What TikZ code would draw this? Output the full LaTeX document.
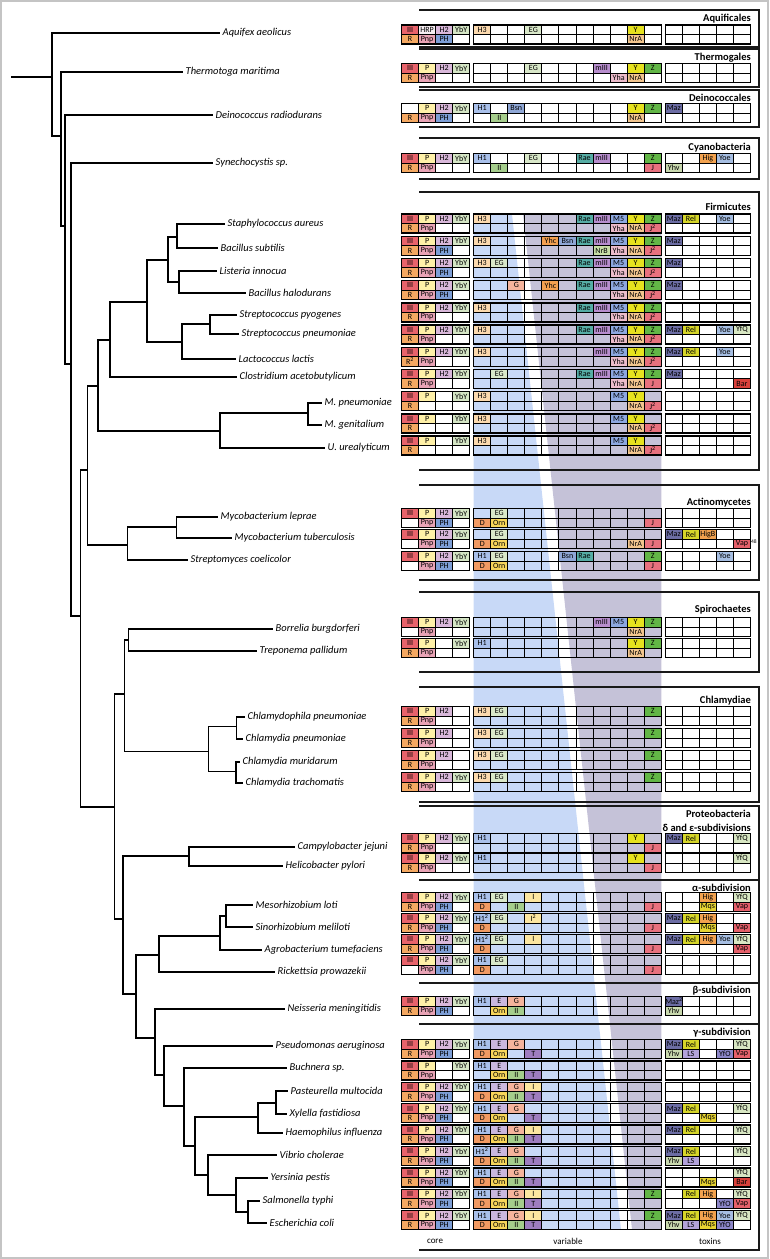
\documentclass[tikz,border=0pt]{standalone}
\usepackage{fontspec}
\setmainfont{Carlito}
\usetikzlibrary{positioning}
% cell colours
\definecolor{cIII}{HTML}{E8636B}
\definecolor{cR}{HTML}{F4A862}
\definecolor{cP}{HTML}{FFF1A8}
\definecolor{cHRP}{HTML}{F6EEF2}
\definecolor{cPnp}{HTML}{E8A3B5}
\definecolor{cH2}{HTML}{D9B8DA}
\definecolor{cPH}{HTML}{7D9ED6}
\definecolor{cYbY}{HTML}{D5E6C5}
\definecolor{cH3}{HTML}{FBD9AE}
\definecolor{cH1}{HTML}{A9C0EA}
\definecolor{cEG}{HTML}{D9E8C9}
\definecolor{cE}{HTML}{C9B7DE}
\definecolor{cG}{HTML}{F5B49C}
\definecolor{cI}{HTML}{FCE6A0}
\definecolor{cD}{HTML}{F19A63}
\definecolor{cOrn}{HTML}{F7D55A}
\definecolor{cII}{HTML}{A5CD8C}
\definecolor{cT}{HTML}{9E7DBF}
\definecolor{cBsn}{HTML}{8FA7D6}
\definecolor{cYhc}{HTML}{F2A050}
\definecolor{cRae}{HTML}{56ADA5}
\definecolor{cmIII}{HTML}{B78DCD}
\definecolor{cM5}{HTML}{8DA8E0}
\definecolor{cYha}{HTML}{ECBCCB}
\definecolor{cNrB}{HTML}{C8DEA6}
\definecolor{cY}{HTML}{E6E21E}
\definecolor{cNrA}{HTML}{F2C58E}
\definecolor{cZ}{HTML}{62B646}
\definecolor{cJ}{HTML}{E8717E}
\definecolor{cMaz}{HTML}{6C6DA4}
\definecolor{cRel}{HTML}{D6D62A}
\definecolor{cHig}{HTML}{F2A24F}
\definecolor{cYoe}{HTML}{A6BEE2}
\definecolor{cYfQ}{HTML}{D8E7C3}
\definecolor{cMqs}{HTML}{E6D332}
\definecolor{cVap}{HTML}{E5606A}
\definecolor{cBar}{HTML}{D9413B}
\definecolor{cYhv}{HTML}{C9D9AE}
\definecolor{cLS}{HTML}{B2A2DA}
\definecolor{cYfO}{HTML}{8C86C8}
\definecolor{bandblue}{HTML}{C8D9F7}
\definecolor{bandgrey}{HTML}{C5C2D8}
\definecolor{edgegrey}{HTML}{C4C4C4}
\tikzset{
  gridln/.style={draw=black,line width=1pt},
  blkln/.style={draw=black,line width=1.4pt},
  cell/.style={draw=black,line width=1pt,anchor=north west,minimum width=17.05pt,
               minimum height=9.5pt,inner sep=0pt,outer sep=0pt,font=\fontsize{8}{8}\selectfont},
  frame/.style={line width=1.5pt,black!90},
  hdr/.style={font=\bfseries\fontsize{10.5}{11}\selectfont,anchor=east,inner sep=0pt},
  spname/.style={font=\itshape\fontsize{10.5}{11}\selectfont,anchor=west,inner sep=2.5pt},
  colname/.style={font=\fontsize{9}{9}\selectfont,inner sep=0pt},
  br/.style={line width=1.4pt,black},
}
\newcommand\deflab[3]{\tikzset{lab #1/.style={fill=#2,node contents={#3}}}}
\deflab{III}{cIII}{III}
\deflab{R}{cR}{R}
\deflab{R2}{cR}{R\textsuperscript{2}}
\deflab{P}{cP}{P}
\deflab{HRP}{cHRP}{HRP}
\deflab{Pnp}{cPnp}{Pnp}
\deflab{H2}{cH2}{H2}
\deflab{PH}{cPH}{PH}
\deflab{YbY}{cYbY}{YbY}
\deflab{H3}{cH3}{H3}
\deflab{H1}{cH1}{H1}
\deflab{H12}{cH1}{H1\textsuperscript{2}}
\deflab{EG}{cEG}{EG}
\deflab{E}{cE}{E}
\deflab{G}{cG}{G}
\deflab{I}{cI}{I}
\deflab{I2}{cI}{I\textsuperscript{2}}
\deflab{D}{cD}{D}
\deflab{Orn}{cOrn}{Orn}
\deflab{II}{cII}{II}
\deflab{T}{cT}{T}
\deflab{Bsn}{cBsn}{Bsn}
\deflab{Yhc}{cYhc}{Yhc}
\deflab{Rae}{cRae}{Rae}
\deflab{mIII}{cmIII}{mIII}
\deflab{M5}{cM5}{M5}
\deflab{Yha}{cYha}{Yha}
\deflab{NrB}{cNrB}{NrB}
\deflab{Y}{cY}{Y}
\deflab{NrA}{cNrA}{NrA}
\deflab{Z}{cZ}{Z}
\deflab{J}{cJ}{J}
\deflab{J2}{cJ}{J\textsuperscript{2}}
\deflab{Maz}{cMaz}{Maz}
\deflab{Maz2}{cMaz}{Maz\textsuperscript{2}}
\deflab{Rel}{cRel}{Rel}
\deflab{Hig}{cHig}{Hig}
\deflab{HigB}{cHig}{HigB}
\deflab{Yoe}{cYoe}{Yoe}
\deflab{YfQ}{cYfQ}{YfQ}
\deflab{Mqs}{cMqs}{Mqs}
\deflab{Vap}{cVap}{Vap}
\deflab{Bar}{cBar}{Bar}
\deflab{Yhv}{cYhv}{Yhv}
\deflab{LS}{cLS}{LS}
\deflab{YfO}{cYfO}{YfO}
\tikzset{lab Vap48/.style={fill=cVap,node contents={Vap},
  label={[font=\fontsize{5.5}{5.5}\selectfont,inner sep=0.5pt,anchor=north west]north east:48}}}
% column position
\newcommand\colx[1]{\pgfmathsetmacro\cx{401.5+(#1-1)*17.05+(#1>4)*4+(#1>15)*4}}
% one genome: centre y, upper row, lower row
\newcommand\genome[3]{%
  \foreach \cc in {1,...,20}{\colx{\cc}
    \draw[gridln] (\cx,#1-9.5) rectangle ++(17.05,19);
    \draw[gridln] (\cx,#1) -- ++(17.05,0);}
  \foreach \cc/\lb in {#2}{\colx{\cc}\node[cell,lab \lb,name=u\cc,at={(\cx,#1-9.5)}];}
  \foreach \cc/\lb in {#3}{\colx{\cc}\node[cell,lab \lb,name=d\cc,at={(\cx,#1)}];}
  \draw[blkln] (401.5,#1-9.5) rectangle (469.7,#1+9.5);
  \draw[blkln] (473.7,#1-9.5) rectangle (661.25,#1+9.5);
  \draw[blkln] (665.25,#1-9.5) rectangle (750.5,#1+9.5);
}
\newcommand\grpframe[2]{\draw[frame] (419,#1) -- (759,#1) -- (759,#2) -- (419,#2);}

\begin{document}
\begin{tikzpicture}[x=1pt,y=-1pt]
\useasboundingbox (0,0) rectangle (769,1259);
\draw[line width=2pt,edgegrey] (1,1) rectangle (768,1258);
% shaded bands behind the variable block
\fill[bandblue] (473.7,214) -- (512,214) -- (621,1229.7) -- (473.7,1229.7) -- cycle;
\fill[bandgrey] (523,214) -- (661.25,214) -- (661.25,1229.7) -- (632,1229.7) -- cycle;
% group frames
\grpframe{10}{47}
\grpframe{49}{87}
\grpframe{90}{127}
\grpframe{138}{179}
\grpframe{192}{470}
\grpframe{485}{580}
\grpframe{592}{672}
\grpframe{687}{802}
\grpframe{806}{1250}
\draw[frame] (419,880) -- (759,880);
\draw[frame] (419,983) -- (759,983);
\draw[frame] (419,1024) -- (759,1024);
\node[hdr] (haq) at (751,19) {Aquificales};
\node[hdr] (hth) at (751,58) {Thermogales};
\node[hdr] (hde) at (751,98) {Deinococcales};
\node[hdr] (hcy) at (751,148) {Cyanobacteria};
\node[hdr] (hfi) at (751,207) {Firmicutes};
\node[hdr] (hac) at (751,503) {Actinomycetes};
\node[hdr] (hsp) at (751,610) {Spirochaetes};
\node[hdr] (hch) at (751,701) {Chlamydiae};
\node[hdr] (hpr) at (751,814) {Proteobacteria};
\node[hdr] (hde2) at (751,828) {δ and ε-subdivisions};
\node[hdr] (hal) at (751,888) {α-subdivision};
\node[hdr] (hbe) at (751,991) {β-subdivision};
\node[hdr] (hga) at (751,1033) {γ-subdivision};
% genomes
\genome{34.5}{1/III,2/HRP,3/H2,4/YbY,5/H3,8/EG,14/Y}{1/R,2/Pnp,3/PH,14/NrA}
\genome{73}{1/III,2/P,3/H2,4/YbY,8/EG,12/mIII,14/Y,15/Z}{1/R,2/Pnp,13/Yha,14/NrA}
\genome{113}{2/P,3/H2,4/YbY,5/H1,7/Bsn,14/Y,15/Z,16/Maz}{1/R,2/Pnp,3/PH,6/II,14/NrA}
\genome{163}{1/III,2/P,3/H2,4/YbY,5/H1,8/EG,11/Rae,12/mIII,15/Z,18/Hig,19/Yoe}{1/R,2/Pnp,6/II,15/J,16/Yhv}
\genome{223.5}{1/III,2/P,3/H2,4/YbY,5/H3,11/Rae,12/mIII,13/M5,14/Y,15/Z,16/Maz,17/Rel,19/Yoe}{1/R,2/Pnp,13/Yha,14/NrA,15/J2}
\genome{245.7}{1/III,2/P,3/H2,4/YbY,5/H3,9/Yhc,10/Bsn,11/Rae,12/mIII,13/M5,14/Y,15/Z,16/Maz}{1/R,2/Pnp,3/PH,12/NrB,13/Yha,14/NrA,15/J2}
\genome{267.9}{1/III,2/P,3/H2,4/YbY,5/H3,6/EG,11/Rae,12/mIII,13/M5,14/Y,15/Z,16/Maz}{1/R,2/Pnp,3/PH,13/Yha,14/NrA,15/J2}
\genome{290.1}{1/III,2/P,3/H2,4/YbY,7/G,9/Yhc,11/Rae,12/mIII,13/M5,14/Y,15/Z,16/Maz}{1/R,2/Pnp,3/PH,13/Yha,14/NrA,15/J2}
\genome{312.3}{1/III,2/P,3/H2,4/YbY,5/H3,11/Rae,12/mIII,13/M5,14/Y,15/Z}{1/R,2/Pnp,13/Yha,14/NrA,15/J2}
\genome{334.5}{1/III,2/P,3/H2,4/YbY,5/H3,11/Rae,12/mIII,13/M5,14/Y,15/Z,16/Maz,17/Rel,19/Yoe,20/YfQ}{1/R,2/Pnp,13/Yha,14/NrA,15/J2}
\genome{356.7}{1/III,2/P,3/H2,4/YbY,5/H3,12/mIII,13/M5,14/Y,15/Z,16/Maz,17/Rel,19/Yoe}{1/R2,2/Pnp,13/Yha,14/NrA,15/J2}
\genome{378.9}{1/III,2/P,3/H2,4/YbY,6/EG,11/Rae,12/mIII,13/M5,14/Y,15/Z,16/Maz}{1/R,2/Pnp,13/Yha,14/NrA,15/J,20/Bar}
\genome{401.1}{1/III,2/P,4/YbY,5/H3,13/M5,14/Y}{1/R,14/NrA,15/J2}
\genome{423.3}{1/III,2/P,4/YbY,5/H3,13/M5,14/Y}{1/R,14/NrA,15/J2}
\genome{445.5}{1/III,2/P,4/YbY,5/H3,13/M5,14/Y}{1/R,14/NrA,15/J2}
\genome{518}{1/III,2/P,3/H2,4/YbY,6/EG}{2/Pnp,3/PH,5/D,6/Orn,15/J}
\genome{539}{1/III,2/P,3/H2,4/YbY,6/EG,16/Maz,17/Rel,18/HigB}{2/Pnp,3/PH,5/D,6/Orn,14/NrA,15/J,20/Vap48}
\genome{561}{1/III,2/P,3/H2,4/YbY,5/H1,6/EG,10/Bsn,11/Rae,15/Z,19/Yoe}{2/Pnp,3/PH,5/D,6/Orn,15/J}
\genome{627}{1/III,2/P,3/H2,4/YbY,12/mIII,13/M5,14/Y,15/Z}{2/Pnp,14/NrA}
\genome{648}{1/III,2/P,4/YbY,5/H1,14/Y,15/Z}{1/R,2/Pnp,14/NrA}
\genome{716}{1/III,2/P,3/H2,5/H3,6/EG,15/Z}{1/R,2/Pnp}
\genome{738}{1/III,2/P,3/H2,5/H3,6/EG,15/Z}{1/R,2/Pnp}
\genome{760}{1/III,2/P,3/H2,5/H3,6/EG,15/Z}{1/R,2/Pnp}
\genome{782}{1/III,2/P,3/H2,4/YbY,5/H3,6/EG,15/Z}{1/R,2/Pnp}
\genome{843}{1/III,2/P,3/H2,4/YbY,5/H1,14/Y,16/Maz,17/Rel,20/YfQ}{1/R,2/Pnp,15/J}
\genome{863}{1/III,2/P,3/H2,4/YbY,5/H1,14/Y,20/YfQ}{1/R,2/Pnp,15/J}
\genome{902}{1/III,2/P,3/H2,4/YbY,5/H1,6/EG,8/I,18/Hig,20/YfQ}{1/R,2/Pnp,3/PH,5/D,7/II,15/J,18/Mqs,20/Vap}
\genome{923}{1/III,2/P,3/H2,4/YbY,5/H12,6/EG,8/I2,16/Maz,17/Rel,18/Hig}{1/R,2/Pnp,3/PH,5/D,15/J,18/Mqs,20/Vap}
\genome{944}{1/III,2/P,3/H2,4/YbY,5/H12,6/EG,8/I,16/Maz,17/Rel,18/Hig,19/Yoe,20/YfQ}{1/R,2/Pnp,3/PH,5/D,15/J,20/Vap}
\genome{965}{1/III,2/P,3/H2,4/YbY,5/H1,6/EG}{2/Pnp,3/PH,5/D,15/J}
\genome{1006}{1/III,2/P,3/H2,4/YbY,5/H1,6/E,7/G,16/Maz2}{1/R,2/Pnp,3/PH,6/Orn,7/II,16/Yhv}
\genome{1049}{1/III,2/P,3/H2,4/YbY,5/H1,6/E,7/G,16/Maz,17/Rel,20/YfQ}{1/R,2/Pnp,3/PH,5/D,6/Orn,8/T,16/Yhv,17/LS,19/YfO,20/Vap}
\genome{1070.4}{1/III,2/P,4/YbY,5/H1,6/E}{1/R,2/Pnp,6/Orn,7/II,8/T}
\genome{1091.8}{1/III,2/P,3/H2,4/YbY,5/H1,6/E,7/G,8/I}{1/R,2/Pnp,3/PH,5/D,6/Orn,7/II,8/T}
\genome{1113.2}{1/III,2/P,3/H2,4/YbY,5/H1,6/E,7/G,16/Maz,17/Rel,20/YfQ}{1/R,2/Pnp,3/PH,5/D,6/Orn,8/T,18/Mqs}
\genome{1134.6}{1/III,2/P,3/H2,4/YbY,5/H1,6/E,7/G,8/I,16/Maz,17/Rel,20/YfQ}{1/R,2/Pnp,3/PH,5/D,6/Orn,7/II,8/T}
\genome{1156}{1/III,2/P,3/H2,4/YbY,5/H12,6/E,7/G,16/Maz,17/Rel,20/YfQ}{1/R,2/Pnp,3/PH,5/D,6/Orn,7/II,8/T,16/Yhv,17/LS}
\genome{1177.4}{1/III,2/P,3/H2,4/YbY,5/H1,6/E,7/G,20/YfQ}{1/R,2/Pnp,3/PH,5/D,6/Orn,7/II,8/T,18/Mqs,20/Bar}
\genome{1198.8}{1/III,2/P,3/H2,4/YbY,5/H1,6/E,7/G,8/I,15/Z,17/Rel,18/Hig,20/YfQ}{1/R,2/Pnp,3/PH,5/D,6/Orn,7/II,8/T,19/YfO,20/Vap}
\genome{1220.2}{1/III,2/P,3/H2,4/YbY,5/H1,6/E,7/G,8/I,15/Z,16/Maz,17/Rel,18/Hig,19/Yoe,20/YfQ}{1/R,2/Pnp,3/PH,5/D,6/Orn,7/II,8/T,16/Yhv,17/LS,18/Mqs,19/YfO}
\node[colname] (ccore) at (435,1241) {core};
\node[colname] (cvar) at (568,1241) {variable};
\node[colname] (ctox) at (710,1241) {toxins};
% species names
\node[spname] (aqu) at (220,33) {Aquifex aeolicus};
\node[spname] (the) at (183,72) {Thermotoga maritima};
\node[spname] (dei) at (213,115) {Deinococcus radiodurans};
\node[spname] (syn) at (213,163) {Synechocystis sp.};
\node[spname] (sta) at (225,224) {Staphylococcus aureus};
\node[spname] (bsu) at (218,248) {Bacillus subtilis};
\node[spname] (lin) at (217,271) {Listeria innocua};
\node[spname] (bha) at (246,293) {Bacillus halodurans};
\node[spname] (spy) at (237,315) {Streptococcus pyogenes};
\node[spname] (spn) at (239,334) {Streptococcus pneumoniae};
\node[spname] (lla) at (236,359) {Lactococcus lactis};
\node[spname] (cac) at (237,377) {Clostridium acetobutylicum};
\node[spname] (mpn) at (322,403) {M. pneumoniae};
\node[spname] (mge) at (322,425) {M. genitalium};
\node[spname] (uur) at (325,448) {U. urealyticum};
\node[spname] (mle) at (218,517) {Mycobacterium leprae};
\node[spname] (mtu) at (232,538) {Mycobacterium tuberculosis};
\node[spname] (sco) at (188,560) {Streptomyces coelicolor};
\node[spname] (bbu) at (273,629) {Borrelia burgdorferi};
\node[spname] (tpa) at (257,651) {Treponema pallidum};
\node[spname] (cpn) at (245,717) {Chlamydophila pneumoniae};
\node[spname] (cpa) at (243,739) {Chlamydia pneumoniae};
\node[spname] (cmu) at (240,762) {Chlamydia muridarum};
\node[spname] (ctr) at (243,783) {Chlamydia trachomatis};
\node[spname] (cje) at (295,847) {Campylobacter jejuni};
\node[spname] (hpy) at (283,866) {Helicobacter pylori};
\node[spname] (mlo) at (253,905) {Mesorhizobium loti};
\node[spname] (sme) at (253,927) {Sinorhizobium meliloti};
\node[spname] (atu) at (262,950) {Agrobacterium tumefaciens};
\node[spname] (rpr) at (275,972) {Rickettsia prowazekii};
\node[spname] (nme) at (285,1009) {Neisseria meningitidis};
\node[spname] (pae) at (273,1046) {Pseudomonas aeruginosa};
\node[spname] (buc) at (287,1068) {Buchnera sp.};
\node[spname] (pmu) at (288,1091) {Pasteurella multocida};
\node[spname] (xfa) at (287,1114) {Xylella fastidiosa};
\node[spname] (hin) at (283,1133) {Haemophilus influenza};
\node[spname] (vch) at (277,1155) {Vibrio cholerae};
\node[spname] (ype) at (268,1178) {Yersinia pestis};
\node[spname] (sty) at (260,1201) {Salmonella typhi};
\node[spname] (eco) at (267,1223) {Escherichia coli};
% tree
\coordinate (r0) at (11,77);
\coordinate (n1) at (52,77);
\coordinate (n2) at (61,136);
\coordinate (n3) at (65,226);
\coordinate (n4) at (71,364);
\coordinate (n5) at (80.5,616);
\coordinate (n6) at (87.5,470);
\coordinate (n7) at (98,386);
\coordinate (n8) at (110,340);
\coordinate (n9) at (147,302);
\coordinate (n10) at (168,260);
\coordinate (n11) at (177,237);
\coordinate (n12) at (179,282);
\coordinate (n13) at (182,342);
\coordinate (n14) at (210,324);
\coordinate (n15) at (220,431);
\coordinate (n16) at (308,413);
\coordinate (n17) at (127.5,545);
\coordinate (n18) at (176.5,527);
\coordinate (n20) at (114.3,807);
\coordinate (n21) at (124.3,694);
\coordinate (s0) at (128.3,640);
\coordinate (c0) at (208.3,751.7);
\coordinate (c1) at (236.7,726.7);
\coordinate (c2) at (236,771.7);
\coordinate (p0) at (123,919);
\coordinate (d0) at (189,856);
\coordinate (p1) at (136,994);
\coordinate (a0) at (159,955);
\coordinate (a1) at (220,936);
\coordinate (a2) at (226,916);
\coordinate (q0) at (155,1038);
\coordinate (g0) at (164,1075);
\coordinate (g1) at (184,1106);
\coordinate (g2) at (195,1146);
\coordinate (g3) at (258,1117);
\coordinate (g5) at (276,1103);
\coordinate (g4) at (208,1175);
\coordinate (g6) at (236,1195);
\coordinate (g7) at (248,1212);
\draw[br] (r0) -- (n1);
\draw[br] (n1) |- (aqu.west);
\draw[br] (n1) |- (n2);
\draw[br] (n2) |- (the.west);
\draw[br] (n2) |- (n3);
\draw[br] (n3) |- (dei.west);
\draw[br] (n3) |- (n4);
\draw[br] (n4) |- (syn.west);
\draw[br] (n4) |- (n5);
\draw[br] (n5) |- (n6);
\draw[br] (n5) |- (n20);
\draw[br] (n6) |- (n7);
\draw[br] (n6) |- (n17);
\draw[br] (n7) |- (n8);
\draw[br] (n7) |- (n15);
\draw[br] (n8) |- (n9);
\draw[br] (n8) |- (cac.west);
\draw[br] (n9) |- (n10);
\draw[br] (n9) |- (n13);
\draw[br] (n10) |- (n11);
\draw[br] (n10) |- (n12);
\draw[br] (n11) |- (sta.west);
\draw[br] (n11) |- (bsu.west);
\draw[br] (n12) |- (lin.west);
\draw[br] (n12) |- (bha.west);
\draw[br] (n13) |- (n14);
\draw[br] (n13) |- (lla.west);
\draw[br] (n14) |- (spy.west);
\draw[br] (n14) |- (spn.west);
\draw[br] (n15) |- (n16);
\draw[br] (n15) |- (uur.west);
\draw[br] (n16) |- (mpn.west);
\draw[br] (n16) |- (mge.west);
\draw[br] (n17) |- (n18);
\draw[br] (n17) |- (sco.west);
\draw[br] (n18) |- (mle.west);
\draw[br] (n18) |- (mtu.west);
\draw[br] (n20) |- (n21);
\draw[br] (n20) |- (p0);
\draw[br] (n21) |- (s0);
\draw[br] (n21) |- (c0);
\draw[br] (s0) |- (bbu.west);
\draw[br] (s0) |- (tpa.west);
\draw[br] (c0) |- (c1);
\draw[br] (c0) |- (c2);
\draw[br] (c1) |- (cpn.west);
\draw[br] (c1) |- (cpa.west);
\draw[br] (c2) |- (cmu.west);
\draw[br] (c2) |- (ctr.west);
\draw[br] (p0) |- (d0);
\draw[br] (p0) |- (p1);
\draw[br] (d0) |- (cje.west);
\draw[br] (d0) |- (hpy.west);
\draw[br] (p1) |- (a0);
\draw[br] (p1) |- (q0);
\draw[br] (a0) |- (a1);
\draw[br] (a0) |- (rpr.west);
\draw[br] (a1) |- (a2);
\draw[br] (a1) |- (atu.west);
\draw[br] (a2) |- (mlo.west);
\draw[br] (a2) |- (sme.west);
\draw[br] (q0) |- (nme.west);
\draw[br] (q0) |- (g0);
\draw[br] (g0) |- (pae.west);
\draw[br] (g0) |- (g1);
\draw[br] (g1) |- (buc.west);
\draw[br] (g1) |- (g2);
\draw[br] (g2) |- (g3);
\draw[br] (g2) |- (g4);
\draw[br] (g3) |- (g5);
\draw[br] (g3) |- (hin.west);
\draw[br] (g5) |- (pmu.west);
\draw[br] (g5) |- (xfa.west);
\draw[br] (g4) |- (vch.west);
\draw[br] (g4) |- (g6);
\draw[br] (g6) |- (ype.west);
\draw[br] (g6) |- (g7);
\draw[br] (g7) |- (sty.west);
\draw[br] (g7) |- (eco.west);
\end{tikzpicture}
\end{document}
